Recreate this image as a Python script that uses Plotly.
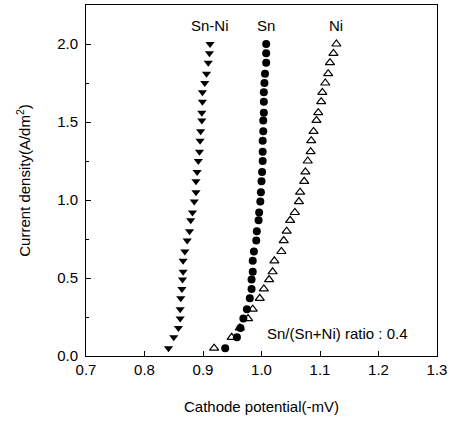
import plotly.graph_objects as go

# Current density (A/dm^2), shared by all three series (top to bottom)
current = [2.00, 1.94, 1.88, 1.81, 1.75, 1.69, 1.63, 1.56, 1.51, 1.44, 1.38, 1.31,
           1.25, 1.18, 1.12, 1.05, 0.99, 0.92, 0.87, 0.80, 0.74, 0.67, 0.61, 0.54,
           0.49, 0.43, 0.37, 0.30, 0.24, 0.18, 0.12, 0.05]

# Cathode potential (-mV)
sn_ni = [0.912, 0.911, 0.909, 0.906, 0.903, 0.899, 0.899, 0.898, 0.898, 0.896, 0.895, 0.894,
         0.892, 0.890, 0.888, 0.888, 0.885, 0.882, 0.879, 0.877, 0.873, 0.869, 0.866, 0.866,
         0.865, 0.864, 0.862, 0.861, 0.861, 0.858, 0.850, 0.841]
sn = [1.008, 1.008, 1.008, 1.006, 1.005, 1.004, 1.004, 1.004, 1.003, 1.003, 1.002, 1.002,
      1.002, 1.001, 1.000, 0.999, 0.998, 0.996, 0.995, 0.992, 0.991, 0.987, 0.985, 0.985,
      0.983, 0.983, 0.980, 0.975, 0.969, 0.964, 0.958, 0.938]
ni = [1.128, 1.123, 1.117, 1.114, 1.109, 1.104, 1.102, 1.097, 1.094, 1.089, 1.085, 1.084,
      1.079, 1.075, 1.073, 1.066, 1.064, 1.057, 1.049, 1.043, 1.038, 1.034, 1.022, 1.019,
      1.013, 1.004, 0.997, 0.985, 0.977, 0.963, 0.949, 0.919]

series_labels = ["Sn-Ni", "Sn", "Ni"]
x_ticks = [0.7, 0.8, 0.9, 1.0, 1.1, 1.2, 1.3]
y_ticks = [0.0, 0.5, 1.0, 1.5, 2.0]

FONT = "Liberation Sans, Arial, sans-serif"

fig = go.Figure()
fig.add_trace(go.Scatter(x=sn_ni, y=current, mode="markers", name=series_labels[0],
                         marker=dict(symbol="triangle-down", size=8, color="black",
                                     line=dict(width=0))))
fig.add_trace(go.Scatter(x=sn, y=current, mode="markers", name=series_labels[1],
                         marker=dict(symbol="circle", size=8, color="black",
                                     line=dict(width=0))))
fig.add_trace(go.Scatter(x=ni, y=current, mode="markers", name=series_labels[2],
                         marker=dict(symbol="triangle-up-open", size=8, color="black",
                                     line=dict(width=1.2, color="black"))))

for lab, xs in zip(series_labels, [sn_ni, sn, ni]):
    fig.add_annotation(x=xs[0], y=2.12, text=lab, showarrow=False,
                       font=dict(family=FONT, size=15, color="black"))

fig.add_annotation(x=1.006, y=0.147, text="Sn/(Sn+Ni) ratio : 0.4", showarrow=False,
                   xanchor="left", font=dict(family=FONT, size=15, color="black"))

fig.update_layout(
    width=457, height=426,
    margin=dict(l=86, r=20, t=5, b=70),
    paper_bgcolor="white", plot_bgcolor="white",
    showlegend=False,
    font=dict(family=FONT, size=15, color="black"),
    xaxis=dict(range=[0.7, 1.3], tickvals=x_ticks, tickformat=".1f",
               ticks="inside", ticklen=5, tickcolor="black",
               tickfont=dict(size=15),
               showline=True, linecolor="black", linewidth=1, mirror=True,
               showgrid=False, zeroline=False,
               title=dict(text="Cathode potential(-mV)", standoff=24,
                          font=dict(size=15))),
    yaxis=dict(range=[0, 2.25], tickvals=y_ticks, tickformat=".1f",
               ticks="inside", ticklen=5, tickcolor="black",
               tickfont=dict(size=15), ticklabelstandoff=4,
               minor=dict(dtick=0.25, ticks="inside", ticklen=3, tickcolor="black"),
               showline=True, linecolor="black", linewidth=1, mirror=True,
               showgrid=False, zeroline=False,
               title=dict(text="Current density(A/dm<sup>2</sup>)", standoff=22,
                          font=dict(size=15))),
)

fig.write_html("out.html")
